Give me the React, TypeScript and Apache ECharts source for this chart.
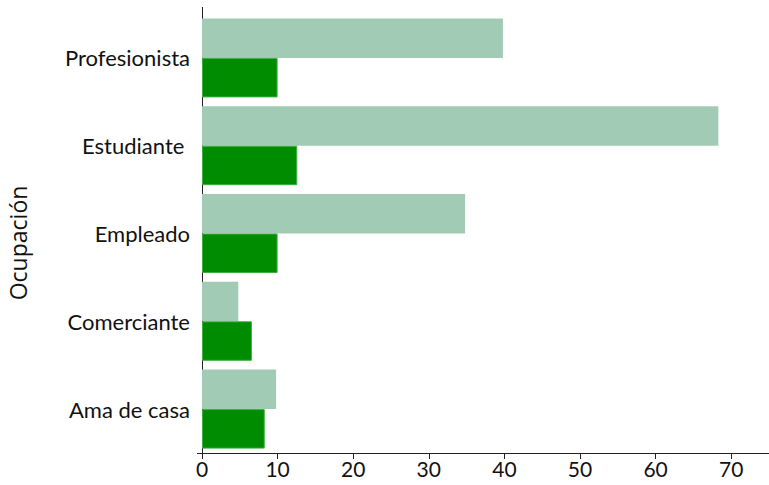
import React, { useEffect, useRef } from "react";
import * as echarts from "echarts";

const categories = ["Profesionista", "Estudiante ", "Empleado", "Comerciante", "Ama de casa"];
const seriesLight = [39.8, 68.3, 34.8, 4.8, 9.8];
const seriesDark = [10, 12.6, 10, 6.6, 8.3];
const xTicks = [0, 10, 20, 30, 40, 50, 60, 70];
const yName = "Ocupación";

export default function App() {
  const ref = useRef<HTMLDivElement>(null);
  useEffect(() => {
    const chart = echarts.init(ref.current!, null, { renderer: "svg" });
    const font = "Lato";
    chart.setOption({
      animation: false,
      grid: { left: 202, right: 0, top: 14, bottom: 32, containLabel: false },
      graphic: [
        {
          type: "text",
          x: 18,
          y: 243,
          rotation: Math.PI / 2,
          style: {
            text: yName,
            fill: "#111",
            font: "23px 'Open Sans'",
            align: "center",
            verticalAlign: "middle",
          },
        },
        {
          type: "line",
          shape: { x1: 202.5, y1: 7, x2: 202.5, y2: 15 },
          style: { stroke: "#222", lineWidth: 1 },
        },
        {
          type: "line",
          shape: { x1: 197, y1: 453.5, x2: 203, y2: 453.5 },
          style: { stroke: "#222", lineWidth: 1 },
        },
      ],
      xAxis: {
        type: "value",
        min: 0,
        max: 75,
        interval: 10,
        splitLine: { show: false },
        axisLine: { show: true, lineStyle: { color: "#222", width: 1 } },
        axisTick: { show: true, length: 6, lineStyle: { color: "#222" }, customValues: xTicks },
        axisLabel: { color: "#111", fontSize: 21, fontFamily: font, margin: 5, customValues: xTicks },
      },
      yAxis: {
        type: "category",
        data: categories,
        inverse: true,
        axisLine: { show: true, lineStyle: { color: "#222", width: 1 } },
        axisTick: { show: false },
        axisLabel: { color: "#111", fontSize: 22, fontFamily: font, margin: 12 },
      },
      series: [
        {
          type: "bar",
          data: seriesLight,
          barGap: "0%",
          barCategoryGap: "10%",
          itemStyle: { color: "#a1cbb5" },
        },
        {
          type: "bar",
          data: seriesDark,
          barGap: "0%",
          barCategoryGap: "10%",
          itemStyle: { color: "#008c00", borderColor: "#3fae3f", borderWidth: 1 },
        },
      ],
    });
    return () => chart.dispose();
  }, []);
  return <div ref={ref} style={{ width: 769, height: 485, position: "absolute", left: 0, top: 0 }} />;
}
